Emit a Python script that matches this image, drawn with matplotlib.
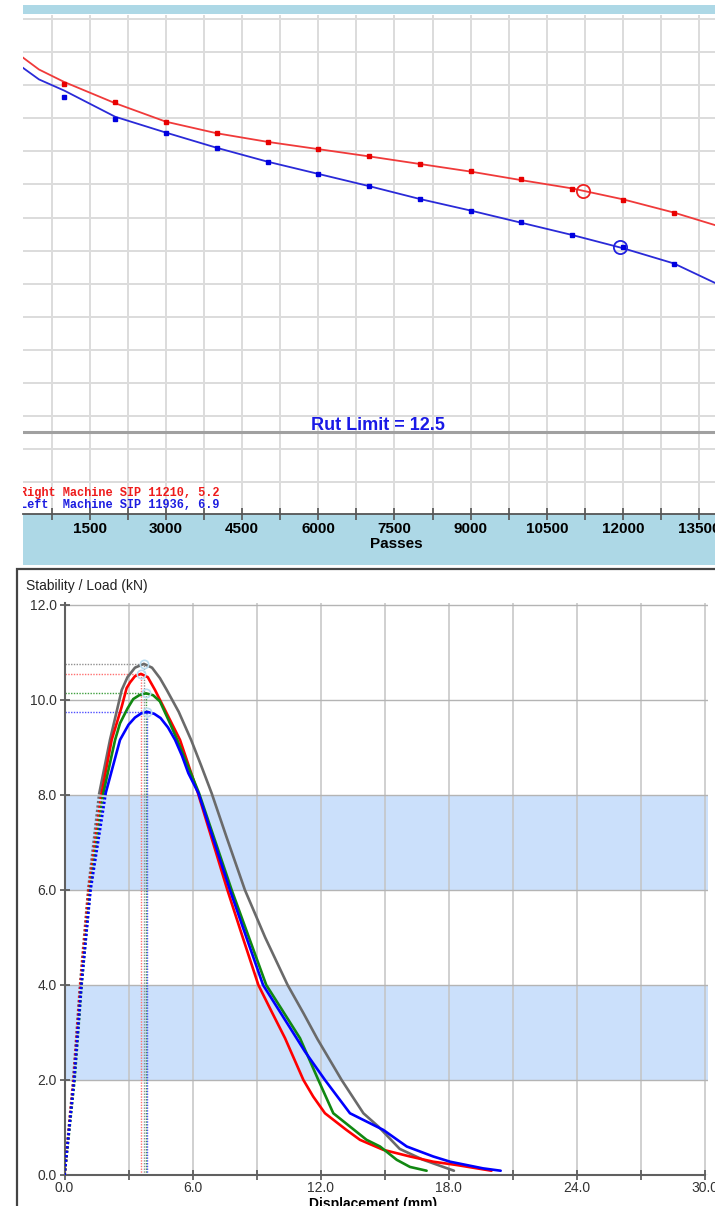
import matplotlib
matplotlib.use("Agg")
import matplotlib.pyplot as plt
from matplotlib.patches import Rectangle
from matplotlib.ticker import MultipleLocator, FormatStrFormatter, NullFormatter

plt.rcParams['font.family'] = ['Liberation Sans', 'DejaVu Sans']

# ---------------- Top chart: rut depth (mm) vs passes ----------------
sample_passes = [1000, 2000, 3000, 4000, 5000, 6000, 7000, 8000, 9000, 10000, 11000, 12000, 13000]
right_depth = [1.95, 2.50, 3.12, 3.45, 3.71, 3.92, 4.15, 4.39, 4.60, 4.84, 5.14, 5.46, 5.87]
left_depth = [2.36, 3.01, 3.43, 3.91, 4.32, 4.67, 5.05, 5.43, 5.81, 6.14, 6.53, 6.90, 7.42]

fit_passes = [185, 500, 1000, 2000, 3000, 4000, 5000, 6000, 7000, 8000, 9000, 10000, 11000, 12000, 13000, 13811]
right_fit = [1.16, 1.52, 1.90, 2.54, 3.10, 3.45, 3.71, 3.93, 4.15, 4.38, 4.61, 4.87, 5.12, 5.45, 5.85, 6.23]
left_fit = [1.47, 1.82, 2.16, 2.95, 3.43, 3.89, 4.31, 4.68, 5.05, 5.44, 5.79, 6.16, 6.53, 6.93, 7.39, 7.98]

right_sip = (11210, 5.2)
left_sip = (11936, 6.9)
rut_limit = 12.5
right_label = "Right Machine SIP 11210, 5.2"
left_label = "Left  Machine SIP 11936, 6.9"

# ---------------- Bottom chart: stability load (kN) vs displacement (mm) ----------------
gray_disp = [0.0, 0.41, 0.73, 1.11, 1.63, 2.13, 2.68, 2.95, 3.30, 3.72, 4.10, 4.47, 4.79, 5.35, 5.93, 6.40,
             6.89, 7.60, 8.45, 9.40, 10.45, 11.20, 11.85, 12.98, 14.00, 14.70, 15.70, 16.80, 18.24]
gray_load = [0.0, 2.0, 4.0, 6.0, 8.04, 9.16, 10.21, 10.48, 10.68, 10.76, 10.68, 10.46, 10.21, 9.75, 9.16, 8.62,
             8.04, 7.10, 6.00, 5.00, 4.00, 3.40, 2.86, 2.00, 1.30, 1.02, 0.55, 0.32, 0.09]

red_disp = [0.0, 0.43, 0.75, 1.14, 1.74, 2.21, 2.68, 2.91, 3.07, 3.30, 3.58, 3.90, 4.24, 4.63, 5.41, 6.25,
            6.90, 7.63, 8.35, 9.08, 9.70, 10.33, 11.19, 11.65, 12.20, 13.20, 13.84, 14.93, 16.18, 17.27, 18.37, 20.00]
red_load = [0.0, 2.0, 4.0, 6.0, 8.04, 9.16, 9.86, 10.25, 10.37, 10.50, 10.55, 10.48, 10.21, 9.86, 9.16, 8.04,
            7.08, 6.00, 5.00, 4.00, 3.44, 2.88, 2.00, 1.65, 1.30, 0.95, 0.74, 0.53, 0.39, 0.28, 0.21, 0.09]

green_disp = [0.0, 0.47, 0.80, 1.20, 1.82, 2.37, 2.60, 2.95, 3.22, 3.50, 3.82, 4.15, 4.47, 4.94, 5.28, 6.30,
              7.05, 7.83, 8.64, 9.45, 10.20, 11.03, 11.89, 12.59, 13.37, 14.15, 14.78, 15.56, 16.18, 16.96]
green_load = [0.0, 2.0, 4.0, 6.0, 8.04, 9.16, 9.51, 9.82, 10.02, 10.10, 10.14, 10.10, 9.97, 9.51, 9.16, 8.04,
              7.04, 6.00, 5.00, 4.00, 3.47, 2.88, 2.00, 1.30, 1.02, 0.74, 0.60, 0.32, 0.17, 0.09]

blue_disp = [0.0, 0.45, 0.79, 1.22, 1.93, 2.60, 3.00, 3.30, 3.60, 3.88, 4.20, 4.50, 4.85, 5.18, 5.50, 5.80,
             6.27, 7.00, 7.75, 8.52, 9.30, 10.10, 10.87, 11.26, 12.20, 13.37, 14.93, 16.03, 17.27, 18.06, 19.60, 20.43]
blue_load = [0.0, 2.0, 4.0, 6.0, 8.04, 9.16, 9.48, 9.63, 9.72, 9.75, 9.71, 9.62, 9.42, 9.16, 8.83, 8.46,
             8.04, 7.03, 6.00, 5.00, 4.00, 3.43, 2.88, 2.60, 2.00, 1.30, 0.95, 0.60, 0.39, 0.28, 0.14, 0.09]

shade_bands = [(2.0, 4.0), (6.0, 8.0)]

W, H, DPI = 715, 1206, 100


def fx(px):
    return px / W


def fy(py):
    return 1 - py / H


fig = plt.figure(figsize=(W / DPI, H / DPI), dpi=DPI)
fig.patch.set_facecolor('white')

BAND = '#add8e6'
fig.add_artist(Rectangle((fx(23), fy(14)), 1.0, 9 / H, transform=fig.transFigure,
                         facecolor=BAND, edgecolor='none', zorder=-1))
fig.add_artist(Rectangle((fx(23), fy(565)), 1.0, (565 - 513) / H, transform=fig.transFigure,
                         facecolor=BAND, edgecolor='none', zorder=-1))

# ---------- top axes ----------
ax1 = fig.add_axes([fx(23), fy(513.5), (715 - 23) / W, (513.5 - 15) / H])
ax1.set_xlim(185, 13811)
ax1.set_ylim(14.96, -0.13)
for s in ['left', 'right', 'top']:
    ax1.spines[s].set_visible(False)
ax1.spines['bottom'].set_color('#555555')
ax1.spines['bottom'].set_linewidth(1.3)
ax1.xaxis.set_major_locator(MultipleLocator(1500))
ax1.xaxis.set_minor_locator(MultipleLocator(750))
ax1.xaxis.set_major_formatter(FormatStrFormatter('%d'))
ax1.yaxis.set_major_locator(MultipleLocator(1))
ax1.yaxis.set_major_formatter(NullFormatter())
ax1.tick_params(axis='y', length=0)
ax1.tick_params(axis='x', which='both', direction='inout', length=8, width=1.2, color='#555555')
ax1.tick_params(axis='x', which='major', labelsize=11, pad=2)
for lab in ax1.get_xticklabels():
    lab.set_fontweight('bold')
ax1.grid(True, which='both', axis='x', color='#dcdcdc', lw=1.4)
ax1.grid(True, which='major', axis='y', color='#dcdcdc', lw=1.4)
ax1.set_axisbelow(True)

ax1.axhline(rut_limit, color='#a0a0a0', lw=2.2, zorder=2)
ax1.text(7175, rut_limit - 0.08, f"Rut Limit = {rut_limit}", ha='center', va='baseline',
         color='#1a1ae6', fontsize=13, fontweight='bold', zorder=3)

ax1.plot(fit_passes, right_fit, color='#f03a3a', lw=1.3, zorder=3, solid_joinstyle='round')
ax1.plot(fit_passes, left_fit, color='#2a2ad8', lw=1.3, zorder=3, solid_joinstyle='round')
ax1.plot(sample_passes, right_depth, ls='none', marker='s', ms=2.4, color='#e80000', zorder=4)
ax1.plot(sample_passes, left_depth, ls='none', marker='s', ms=2.4, color='#0000e0', zorder=4)
ax1.plot([right_sip[0]], [right_sip[1]], ls='none', marker='o', ms=9.5, mfc='none', mec='#ee2020', mew=1.3, zorder=5)
ax1.plot([left_sip[0]], [left_sip[1]], ls='none', marker='o', ms=9.5, mfc='none', mec='#2020e0', mew=1.3, zorder=5)

ax1.text(-0.0043, (513.5 - 492.7) / 498.5, right_label, transform=ax1.transAxes, ha='left', va='center',
         family='Liberation Mono', fontsize=8.6, fontweight='bold', color='#ee1c1c', clip_on=True)
ax1.text(-0.0043, (513.5 - 505.0) / 498.5, left_label, transform=ax1.transAxes, ha='left', va='center',
         family='Liberation Mono', fontsize=8.6, fontweight='bold', color='#1c1ce0', clip_on=True)

fig.text(fx(396), fy(544), "Passes", ha='center', va='center', fontsize=11, fontweight='bold')

# ---------- bottom panel frame ----------
fig.add_artist(Rectangle((fx(17), -0.1), 1.5, fy(569) + 0.1, transform=fig.transFigure,
                         facecolor='none', edgecolor='#444444', lw=1.6, zorder=5))
fig.text(fx(26.5), fy(586), "Stability / Load (kN)", ha='left', va='center', fontsize=10, color='#222222')

# ---------- bottom axes ----------
ax2 = fig.add_axes([fx(64.5), fy(1175), (708.2 - 64.5) / W, 572.4 / H])
ax2.set_xlim(0, 30.15)
ax2.set_ylim(0, 12.05)
for s in ['right', 'top']:
    ax2.spines[s].set_visible(False)
for s in ['left', 'bottom']:
    ax2.spines[s].set_color('#606060')
    ax2.spines[s].set_linewidth(1.5)
ax2.spines['bottom'].set_bounds(0, 30)
ax2.spines['left'].set_bounds(0, 12.05)

ax2.xaxis.set_major_locator(MultipleLocator(6))
ax2.xaxis.set_minor_locator(MultipleLocator(3))
ax2.xaxis.set_major_formatter(FormatStrFormatter('%.1f'))
ax2.yaxis.set_major_locator(MultipleLocator(2))
ax2.yaxis.set_major_formatter(FormatStrFormatter('%.1f'))
ax2.tick_params(which='both', direction='inout', length=7, width=1.2, color='#555555',
                labelsize=10, labelcolor='#333333')
ax2.tick_params(axis='x', pad=1)
ax2.tick_params(axis='y', pad=2)
ax2.set_axisbelow(True)
ax2.grid(True, which='both', axis='x', color='#c4c4c4', lw=1.1)
ax2.grid(True, which='major', axis='y', color='#b4b4b4', lw=1.0)
for lo, hi in shade_bands:
    ax2.axhspan(lo, hi, facecolor='#cbe0fb', edgecolor='none', zorder=0.2)

fig.text(fx(373), fy(1197), "Displacement (mm)", ha='center', va='top', fontsize=10, fontweight='bold')

curves = [
    (gray_disp, gray_load, '#6a6a6a', '#909090', 5),
    (red_disp, red_load, '#ff0000', '#ff7070', 5),
    (green_disp, green_load, '#118811', '#40a040', 5),
    (blue_disp, blue_load, '#0000ff', '#5050ff', 5),
]
for i, (dx, ld, col, dcol, n_dot) in enumerate(curves):
    k = max(range(len(ld)), key=lambda j: ld[j])
    px, py = dx[k], ld[k]
    ax2.plot([0, px], [py, py], ls=(0, (1, 1)), lw=1.0, color=dcol, zorder=2)
    ax2.plot([px, px], [0, py], ls=(0, (1, 1)), lw=1.0, color=dcol, zorder=2)
    ax2.plot(dx[:n_dot], ld[:n_dot], ls=(0, (0.8, 0.8)), lw=2.0, color=col, zorder=3 + i * 0.1)
    ax2.plot(dx[n_dot - 1:], ld[n_dot - 1:], ls='-', lw=1.9, color=col, zorder=3 + i * 0.1,
             solid_joinstyle='round', solid_capstyle='round')
    ax2.plot([px], [py], ls='none', marker='o', ms=6, mfc='none', mec='#b8dcf0', mew=1.2, zorder=4)

fig.savefig('out.png', dpi=DPI)
